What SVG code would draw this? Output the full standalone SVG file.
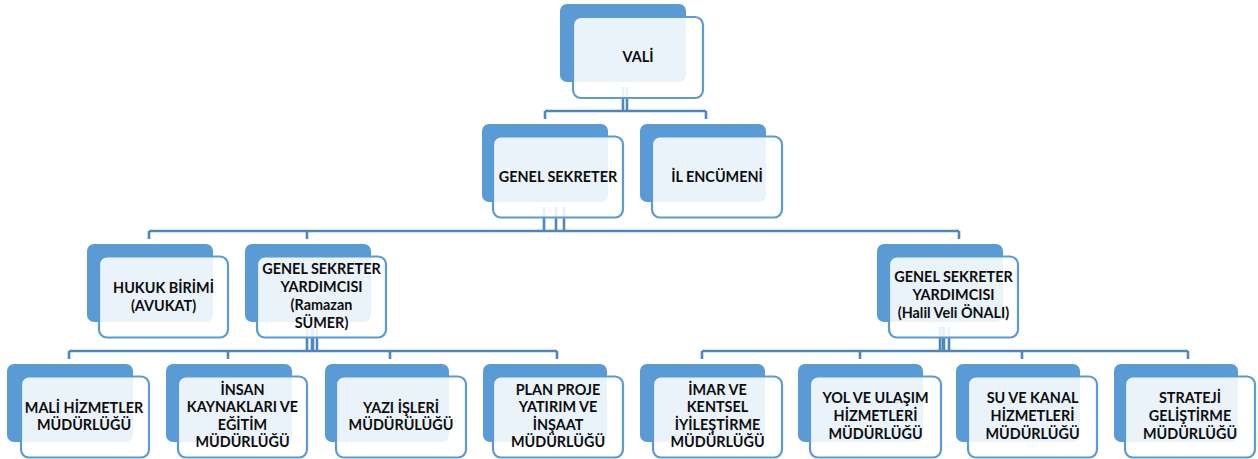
<svg xmlns="http://www.w3.org/2000/svg" width="1258" height="459" viewBox="0 0 1258 459">
<style>
.bg{fill:#5b9bd5;}
.fr{fill:#ffffff;fill-opacity:0.88;stroke:#5b9bd5;stroke-width:2.2;}
.t{font-family:Lato,"Liberation Sans",sans-serif;font-weight:bold;font-size:14.4px;fill:#0d0d0d;text-anchor:middle;}
.c{fill:none;stroke:#4f86c0;stroke-width:2.6;}
</style>
<rect width="1258" height="459" fill="#ffffff"/>
<g id="connectors">
<path class="c" d="M623 87V111M627 87V111M545 111H706M545 111V119M706 111V119"/>
<path class="c" d="M544 207V231M556 207V231M564 207V231M149 231H959M149 231V239M307 231V239M959 231V239"/>
<path class="c" d="M307 327V351M312 327V351M313 327V351M317 327V351M69 351H557M69 351V359M228 351V359M390 351V359M557 351V359"/>
<path class="c" d="M940 327V351M943 327V351M944 327V351M949 327V351M702 351H1188M702 351V359M860 351V359M1022 351V359M1188 351V359"/>
</g>
<g id="vali" transform="translate(560,4)">
<rect class="bg" width="126" height="78" rx="7"/>
<rect class="fr" x="13" y="13" width="130" height="81" rx="8"/>
<text class="t" x="78" y="58">VALİ</text>
</g>
<g id="genel-sekreter" transform="translate(482,124)">
<rect class="bg" width="126" height="78" rx="7"/>
<rect class="fr" x="11" y="12.5" width="130" height="81" rx="8"/>
<text class="t" x="76" y="58">GENEL SEKRETER</text>
</g>
<g id="il-encumeni" transform="translate(640,124)">
<rect class="bg" width="126" height="78" rx="7"/>
<rect class="fr" x="12" y="12.5" width="130" height="81" rx="8"/>
<text class="t" x="77" y="58">İL ENCÜMENİ</text>
</g>
<g id="hukuk-birimi" transform="translate(87,244)">
<rect class="bg" width="126" height="78" rx="7"/>
<rect class="fr" x="12" y="12.5" width="129" height="81" rx="8"/>
<text class="t" x="76.5" y="49">HUKUK BİRİMİ</text>
<text class="t" x="76.5" y="67">(AVUKAT)</text>
</g>
<g id="gsy-ramazan" transform="translate(245,244)">
<rect class="bg" width="126" height="78" rx="7"/>
<rect class="fr" x="12" y="12.5" width="129" height="81" rx="8"/>
<text class="t" x="76.5" y="30">GENEL SEKRETER</text>
<text class="t" x="76.5" y="48">YARDIMCISI</text>
<text class="t" x="76.5" y="66">(Ramazan</text>
<text class="t" x="76.5" y="83.5">SÜMER)</text>
</g>
<g id="gsy-halil" transform="translate(877,244)">
<rect class="bg" width="126" height="78" rx="7"/>
<rect class="fr" x="12" y="12.5" width="129" height="81" rx="8"/>
<text class="t" x="76.5" y="38">GENEL SEKRETER</text>
<text class="t" x="76.5" y="56">YARDIMCISI</text>
<text class="t" x="76.5" y="74">(Halil Veli ÖNALI)</text>
</g>
<g id="mali" transform="translate(7,364)">
<rect class="bg" width="126" height="78" rx="7"/>
<rect class="fr" x="14" y="12.5" width="128" height="81" rx="8"/>
<text class="t" x="77" y="49">MALİ HİZMETLER</text>
<text class="t" x="77" y="66">MÜDÜRLÜĞÜ</text>
</g>
<g id="insan" transform="translate(166,364)">
<rect class="bg" width="126" height="78" rx="7"/>
<rect class="fr" x="12" y="12.5" width="129" height="81" rx="8"/>
<text class="t" x="76.5" y="30.5">İNSAN</text>
<text class="t" x="76.5" y="48">KAYNAKLARI VE</text>
<text class="t" x="76.5" y="65.5">EĞİTİM</text>
<text class="t" x="76.5" y="83">MÜDÜRLÜĞÜ</text>
</g>
<g id="yazi" transform="translate(325,364)">
<rect class="bg" width="124" height="78" rx="7"/>
<rect class="fr" x="11" y="12.5" width="130" height="81" rx="8"/>
<text class="t" x="76" y="49">YAZI İŞLERİ</text>
<text class="t" x="76" y="66">MÜDÜRÜLÜĞÜ</text>
</g>
<g id="plan" transform="translate(483,364)">
<rect class="bg" width="124" height="78" rx="7"/>
<rect class="fr" x="10" y="12.5" width="130" height="81" rx="8"/>
<text class="t" x="75" y="30.5">PLAN PROJE</text>
<text class="t" x="75" y="48">YATIRIM VE</text>
<text class="t" x="75" y="65.5">İNŞAAT</text>
<text class="t" x="75" y="83">MÜDÜRLÜĞÜ</text>
</g>
<g id="imar" transform="translate(640,364)">
<rect class="bg" width="125" height="78" rx="7"/>
<rect class="fr" x="13" y="12.5" width="129" height="81" rx="8"/>
<text class="t" x="77.5" y="30.5">İMAR VE</text>
<text class="t" x="77.5" y="48">KENTSEL</text>
<text class="t" x="77.5" y="65.5">İYİLEŞTİRME</text>
<text class="t" x="77.5" y="83">MÜDÜRLÜĞÜ</text>
</g>
<g id="yol" transform="translate(798,364)">
<rect class="bg" width="125" height="78" rx="7"/>
<rect class="fr" x="12" y="12.5" width="131" height="81" rx="8"/>
<text class="t" x="77.5" y="39">YOL VE ULAŞIM</text>
<text class="t" x="77.5" y="57">HİZMETLERİ</text>
<text class="t" x="77.5" y="74.5">MÜDÜRLÜĞÜ</text>
</g>
<g id="su" transform="translate(956,364)">
<rect class="bg" width="124" height="78" rx="7"/>
<rect class="fr" x="12" y="12.5" width="129" height="81" rx="8"/>
<text class="t" x="76.5" y="39">SU VE KANAL</text>
<text class="t" x="76.5" y="57">HİZMETLERİ</text>
<text class="t" x="76.5" y="74.5">MÜDÜRLÜĞÜ</text>
</g>
<g id="strateji" transform="translate(1114,364)">
<rect class="bg" width="124" height="78" rx="7"/>
<rect class="fr" x="11" y="12.5" width="130" height="81" rx="8"/>
<text class="t" x="76" y="39">STRATEJİ</text>
<text class="t" x="76" y="57">GELİŞTİRME</text>
<text class="t" x="76" y="74.5">MÜDÜRLÜĞÜ</text>
</g>
</svg>
